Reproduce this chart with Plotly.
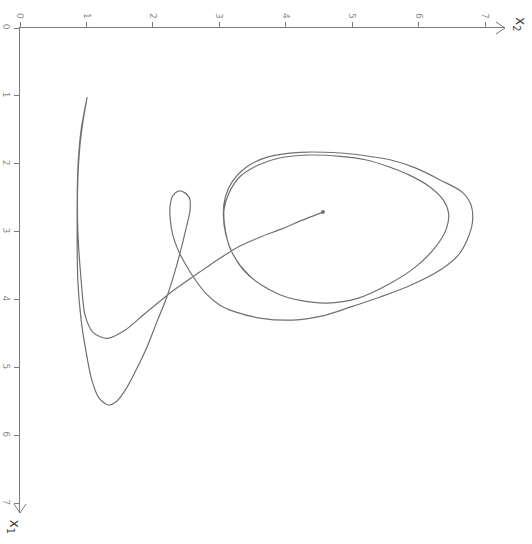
import plotly.graph_objects as go

# Trajectory in the (x2, x1) phase plane; x2 runs along the top axis, x1 downward.
x2 = [4.56, 4.22, 3.96, 3.61, 3.31, 3.01, 2.71, 2.26, 1.85, 1.58, 1.31, 1.10, 0.98, 0.92,
      0.87, 0.87, 0.90, 0.95, 1.01, 0.92, 0.87, 0.86, 0.87, 0.92, 0.99, 1.08, 1.19, 1.33,
      1.46, 1.61, 1.76, 1.91, 2.06, 2.21, 2.33, 2.42, 2.50, 2.56, 2.55, 2.47, 2.39, 2.30,
      2.26, 2.26, 2.30, 2.38, 2.48, 2.64, 2.82, 3.01, 3.24, 3.61, 4.11, 4.59, 4.97, 5.42,
      5.83, 6.33, 6.60, 6.73, 6.81, 6.79, 6.66, 6.33, 5.95, 5.57, 5.12, 4.82, 4.22, 3.72,
      3.39, 3.19, 3.09, 3.06, 3.10, 3.19, 3.36, 3.61, 3.92, 4.22, 4.62, 5.08, 5.57, 5.95,
      6.25, 6.42, 6.45, 6.37, 6.17, 5.87, 5.57, 5.20, 4.82, 4.37, 3.92, 3.58, 3.31, 3.15,
      3.07, 3.09, 3.16, 3.31, 3.49]
x1 = [2.71, 2.84, 2.95, 3.08, 3.21, 3.39, 3.59, 3.90, 4.23, 4.45, 4.57, 4.48, 4.23, 3.71,
      2.97, 2.24, 1.75, 1.36, 1.02, 1.50, 2.09, 2.97, 3.71, 4.30, 4.74, 5.18, 5.45, 5.55,
      5.49, 5.29, 5.01, 4.70, 4.33, 3.96, 3.59, 3.27, 2.95, 2.68, 2.50, 2.42, 2.40, 2.47,
      2.61, 2.80, 3.05, 3.27, 3.46, 3.71, 3.93, 4.08, 4.18, 4.27, 4.30, 4.23, 4.11, 3.96,
      3.81, 3.56, 3.34, 3.12, 2.86, 2.61, 2.42, 2.24, 2.06, 1.94, 1.87, 1.84, 1.83, 1.90,
      2.06, 2.27, 2.49, 2.75, 3.05, 3.30, 3.56, 3.77, 3.93, 4.01, 4.05, 3.98, 3.76, 3.52,
      3.23, 2.95, 2.72, 2.53, 2.34, 2.17, 2.05, 1.94, 1.89, 1.87, 1.91, 2.02, 2.19, 2.42,
      2.68, 2.97, 3.24, 3.49, 3.68]

ticks = [0, 1, 2, 3, 4, 5, 6, 7]
tick_text = ["0", "1", "2", "3", "4", "5", "6", "7"]

axis_color = "#7a7a7a"
curve_color = "#707070"

fig = go.Figure()
fig.add_trace(go.Scatter(
    x=x2, y=x1, mode="lines",
    line=dict(color=curve_color, width=1.2, shape="spline", smoothing=0.8),
    hoverinfo="skip", showlegend=False,
))
fig.add_trace(go.Scatter(
    x=[x2[0]], y=[x1[0]], mode="markers",
    marker=dict(color=curve_color, size=4),
    hoverinfo="skip", showlegend=False,
))

common_axis = dict(
    tickvals=ticks, ticktext=tick_text, ticks="outside", ticklen=5,
    tickcolor=axis_color, tickwidth=1, tickangle=90, automargin=False,
    tickfont=dict(family="DejaVu Sans", size=9, color="#8a8a8a"),
    showline=True, linecolor=axis_color, linewidth=1,
    showgrid=False, zeroline=False,
)

fig.update_layout(
    width=532, height=544,
    margin=dict(l=20, r=27, t=28, b=31),
    paper_bgcolor="white", plot_bgcolor="white",
    xaxis=dict(range=[0, 7.30], side="top", **common_axis),
    yaxis=dict(range=[7.14, 0], **common_axis),
)

# open arrowheads at the ends of both axes
fig.add_shape(type="path", xref="paper", yref="paper",
              xsizemode="pixel", ysizemode="pixel", xanchor=1, yanchor=1,
              path="M -9,6 L 0,0 L -9,-6", line=dict(color=axis_color, width=1))
fig.add_shape(type="path", xref="paper", yref="paper",
              xsizemode="pixel", ysizemode="pixel", xanchor=0, yanchor=0,
              path="M -6,9 L 0,0 L 6,9", line=dict(color=axis_color, width=1))

# axis titles, rotated like the tick labels
fig.add_annotation(x=1, y=1, xref="paper", yref="paper", text="x<sub>2</sub>",
                   showarrow=False, textangle=90, xanchor="left", yanchor="middle",
                   xshift=4, yshift=4, font=dict(family="DejaVu Sans", size=14, color="#444"))
fig.add_annotation(x=0, y=0, xref="paper", yref="paper", text="x<sub>1</sub>",
                   showarrow=False, textangle=90, xanchor="center", yanchor="top",
                   xshift=-6, yshift=-4, font=dict(family="DejaVu Sans", size=14, color="#444"))

fig.write_html("out.html")
